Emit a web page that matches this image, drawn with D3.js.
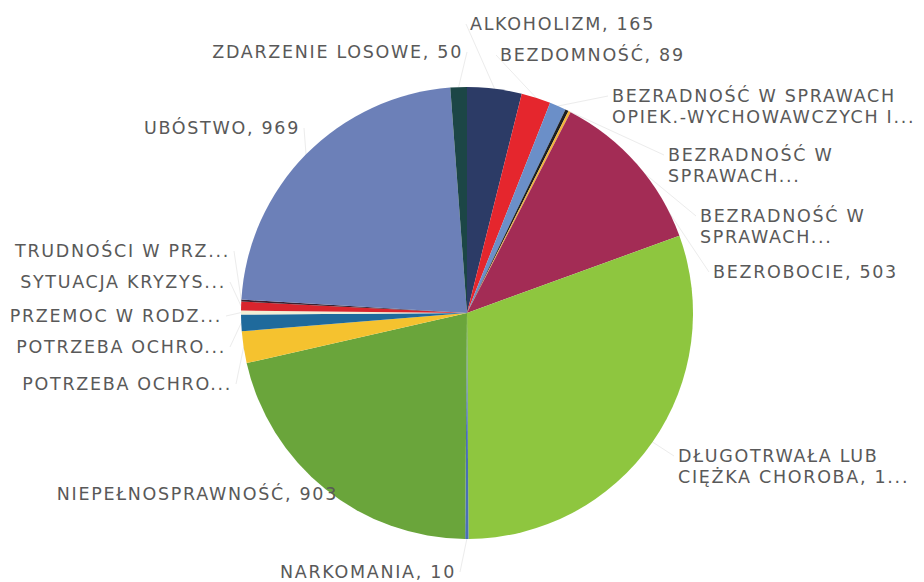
<!DOCTYPE html>
<html>
<head>
<meta charset="utf-8">
<script src="https://cdn.jsdelivr.net/npm/d3@7/dist/d3.min.js"></script>
<style>
  body { margin: 0; background: #fff; }
  .lbl { font-family: "DejaVu Sans", sans-serif; font-size: 17.5px; fill: #595959; letter-spacing: 1.7px; }
</style>
</head>
<body>
<svg id="chart" width="924" height="582"></svg>
<script>
// PIE DATA (clockwise from 12 o'clock)
var categories = [
  ["ALKOHOLIZM, 165"],
  ["BEZDOMNOŚĆ, 89"],
  ["BEZRADNOŚĆ W SPRAWACH", "OPIEK.-WYCHOWAWCZYCH I..."],
  ["BEZRADNOŚĆ W", "SPRAWACH..."],
  ["BEZRADNOŚĆ W", "SPRAWACH..."],
  ["BEZROBOCIE, 503"],
  ["DŁUGOTRWAŁA LUB", "CIĘŻKA CHOROBA, 1..."],
  ["NARKOMANIA, 10"],
  ["NIEPEŁNOSPRAWNOŚĆ, 903"],
  ["POTRZEBA OCHRO..."],
  ["POTRZEBA OCHRO..."],
  ["PRZEMOC W RODZ..."],
  ["SYTUACJA KRYZYS..."],
  ["TRUDNOŚCI W PRZ..."],
  ["UBÓSTWO, 969"],
  ["ZDARZENIE LOSOWE, 50"]
];
var values = [165, 89, 50, 10, 7, 503, 1290, 10, 903, 96, 50, 12, 27, 6, 969, 50];
var colors = ["#2c3b66", "#e5262d", "#6b8fc8", "#1b1f24", "#f2b43a", "#a32c55",
              "#8ec63f", "#4a6fb5", "#6aa53b", "#f5c22f", "#1f6a9c", "#f1eed6",
              "#d8252d", "#3b2030", "#6c80b8", "#1c4646"];

// LABEL LAYOUT: [x, y of first baseline, anchor]
var labelPos = [
  [470, 30, "start"],
  [500, 61, "start"],
  [612, 102, "start"],
  [668, 161, "start"],
  [700, 222, "start"],
  [713, 278, "start"],
  [678, 462, "start"],
  [456, 578, "end"],
  [338, 500, "end"],
  [232, 390, "end"],
  [226, 353, "end"],
  [222, 322, "end"],
  [226, 288, "end"],
  [230, 257, "end"],
  [300, 134, "end"],
  [463, 58, "end"]
];

var cx = 467, cy = 313, radius = 226;

var svg = d3.select("#chart");

var pie = d3.pie().sort(null).value(function(d) { return d; });
var arcs = pie(values);

// faint leader lines
var edge = d3.arc().innerRadius(radius).outerRadius(radius);
svg.selectAll("line.lead")
  .data(arcs)
  .enter()
  .append("line")
  .attr("class", "lead")
  .attr("x1", function(d) { return cx + edge.centroid(d)[0]; })
  .attr("y1", function(d) { return cy + edge.centroid(d)[1]; })
  .attr("x2", function(d, i) {
    var p = labelPos[i];
    return p[2] == "end" ? p[0] + 4 : p[0] - 4;
  })
  .attr("y2", function(d, i) { return labelPos[i][1] - 6; })
  .style("stroke", "#ececec")
  .style("stroke-width", 1);

var g = svg.append("g").attr("transform", "translate(" + cx + "," + cy + ")");
var arc = d3.arc().innerRadius(0).outerRadius(radius);

g.selectAll("path.slice")
  .data(arcs)
  .enter()
  .append("path")
  .attr("class", "slice")
  .attr("d", arc)
  .style("fill", function(d, i) { return colors[i]; });

// LABELS
categories.forEach(function(lines, i) {
  var p = labelPos[i];
  var t = svg.append("text")
    .attr("class", "lbl")
    .attr("text-anchor", p[2])
    .attr("x", p[0])
    .attr("y", p[1]);
  lines.forEach(function(l, k) {
    t.append("tspan").attr("x", p[0]).attr("dy", k == 0 ? 0 : 21).text(l);
  });
});
</script>
</body>
</html>
